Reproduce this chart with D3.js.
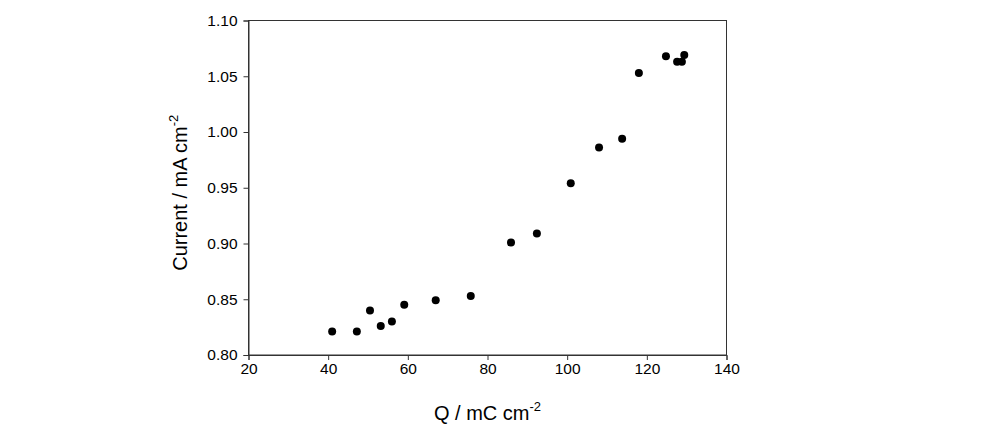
<!DOCTYPE html>
<html>
<head>
<meta charset="utf-8">
<script src="https://cdn.jsdelivr.net/npm/d3@7"></script>
<style>
  body { margin: 0; background: #fff; }
  svg { display: block; font-family: "Liberation Sans", Arial, sans-serif; }
</style>
</head>
<body>
<svg id="canvas" width="992" height="434"></svg>
<script>
(function () {

    // Data.
    var charge = [41.0, 47.2, 50.5, 53.2, 56.0, 59.1, 67.0, 75.8, 85.9, 92.4, 100.9, 108.0, 113.8, 118.0, 124.8, 127.6, 128.8, 129.4];
    var current = [0.821, 0.821, 0.840, 0.826, 0.830, 0.845, 0.849, 0.853, 0.901, 0.909, 0.954, 0.986, 0.994, 1.053, 1.068, 1.063, 1.063, 1.069];
    var xTicks = [20, 40, 60, 80, 100, 120, 140];
    var yTicks = [0.80, 0.85, 0.90, 0.95, 1.00, 1.05, 1.10];

    var padding = { top: 20.5, left: 248.5, right: 265.5, bottom: 79 };
    var svg = d3.select("#canvas");
    var width = +svg.attr("width") - padding.left - padding.right;
    var height = +svg.attr("height") - padding.top - padding.bottom;

    var xScale = d3.scaleLinear().domain([20, 140]).range([0, width]);
    var yScale = d3.scaleLinear().domain([0.80, 1.10]).range([height, 0]);

    var g = svg.append("g")
        .attr("transform", "translate(" + padding.left + ", " + padding.top + ")");

    // Frame around the plot.
    g.append("rect")
        .attr("width", width)
        .attr("height", height)
        .attr("fill", "none")
        .attr("stroke", "#333")
        .attr("stroke-width", 1);

    var xAxis = d3.axisBottom(xScale).tickValues(xTicks).tickSize(5).tickPadding(3)
        .tickFormat(d3.format("d"));
    var yAxis = d3.axisLeft(yScale).tickValues(yTicks).tickSize(5).tickPadding(6)
        .tickFormat(d3.format(".2f"));

    g.append("g")
        .attr("transform", "translate(0, " + height + ")")
        .call(xAxis)
        .call(styleAxis);
    g.append("g")
        .call(yAxis)
        .call(styleAxis);

    function styleAxis(sel) {
        sel.select(".domain").attr("stroke", "#333");
        sel.selectAll(".tick line").attr("stroke", "#333");
        sel.selectAll(".tick text")
            .attr("fill", "#000")
            .style("font-size", "15.5px")
            .style("font-family", "'Liberation Sans', Arial, sans-serif");
    }

    // Points.
    g.selectAll("circle")
        .data(charge)
        .enter().append("circle")
        .attr("cx", (d, i) => xScale(d))
        .attr("cy", (d, i) => yScale(current[i]))
        .attr("r", 4)
        .attr("fill", "#000");

    // Axis titles.
    var xTitle = svg.append("text")
        .attr("x", padding.left + width / 2)
        .attr("y", 420)
        .attr("text-anchor", "middle")
        .style("font-size", "20px");
    xTitle.append("tspan").text("Q / mC cm");
    xTitle.append("tspan").attr("dy", -9).style("font-size", "13px").text("-2");

    var yTitle = svg.append("text")
        .attr("transform", "translate(187, " + (padding.top + height / 2 + 5) + ") rotate(-90)")
        .attr("text-anchor", "middle")
        .style("font-size", "20px");
    yTitle.append("tspan").text("Current / mA cm");
    yTitle.append("tspan").attr("dy", -9).style("font-size", "13px").text("-2");

})();
</script>
</body>
</html>
